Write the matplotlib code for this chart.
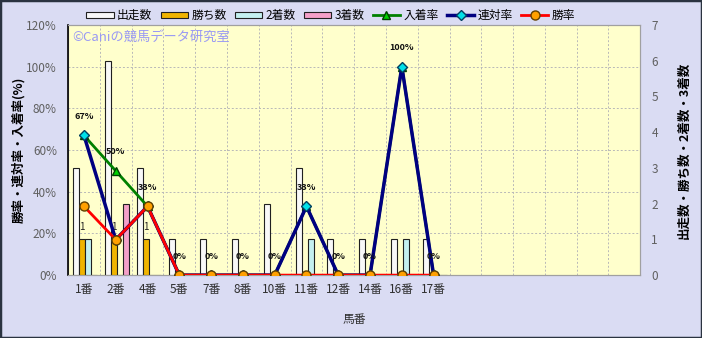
import matplotlib
matplotlib.use("Agg")
import matplotlib.pyplot as plt
from matplotlib.patches import Rectangle

plt.rcParams['font.family'] = ['Noto Sans CJK JP', 'DejaVu Sans']

# data
horses = ["1番", "2番", "4番", "5番", "7番", "8番", "10番", "11番", "12番", "14番", "16番", "17番"]
runs = [3, 6, 3, 1, 1, 1, 2, 3, 1, 1, 1, 1]
wins = [1, 1, 1, 0, 0, 0, 0, 0, 0, 0, 0, 0]
seconds = [1, 0, 0, 0, 0, 0, 0, 1, 0, 0, 1, 0]
thirds = [0, 2, 0, 0, 0, 0, 0, 0, 0, 0, 0, 0]
place_rate = [67, 50, 33, 0, 0, 0, 0, 33, 0, 0, 100, 0]
quinella_rate = [67, 17, 33, 0, 0, 0, 0, 33, 0, 0, 100, 0]
win_rate = [33, 17, 33, 0, 0, 0, 0, 0, 0, 0, 0, 0]
n_slots = 18

bg = "#dadcf3"
fig = plt.figure(figsize=(7.02, 3.38), dpi=100, facecolor=bg)
fig.patches.append(Rectangle((0, 0), 1, 1, transform=fig.transFigure, fill=False,
                             edgecolor="#2a3340", linewidth=2.5))

ax = fig.add_axes([0.097, 0.186, 0.815, 0.74], facecolor="#ffffcc")
ax2 = ax.twinx()

x = list(range(len(horses)))
w = 0.19
shift = 0.04
bar_sets = [
    (runs, "#f8f8f8", "出走数"),
    (wins, "#f0b400", "勝ち数"),
    (seconds, "#c4f0f0", "2着数"),
    (thirds, "#f4a0c8", "3着数"),
]
handles = []
for k, (vals, col, name) in enumerate(bar_sets):
    pos = [xi + shift + (k - 1.5) * w for xi in x]
    b = ax.bar(pos, vals, width=w, color=col, edgecolor="#202020", linewidth=0.8,
               label=name, zorder=3)
    handles.append(b)

# "1" labels on win bars
for xi, v in zip(x, wins):
    if v > 0:
        ax.text(xi + shift - 0.5 * w, v + 0.2, str(v), ha="center", va="bottom",
                fontsize=7, color="#202020", zorder=4)

ax.set_ylim(0, 7)
ax.set_xlim(-0.5, n_slots - 0.5)

# grid
for p in range(20, 120, 20):
    ax.axhline(p / 120 * 7, color="#b8b8b8", linestyle=(0, (2, 2)), linewidth=0.7, zorder=1)
for i in range(n_slots):
    ax.axvline(i + 0.5, color="#b8b8b8", linestyle=(0, (2, 2)), linewidth=0.7, zorder=1)

l1, = ax2.plot(x, place_rate, color="#008000", linewidth=2, marker="^", markersize=6,
               markerfacecolor="#00d000", markeredgecolor="#004000", label="入着率", zorder=5)
l2, = ax2.plot(x, quinella_rate, color="#000080", linewidth=2.5, marker="D", markersize=5,
               markerfacecolor="#00e0e8", markeredgecolor="#004060", label="連対率", zorder=6)
l3, = ax2.plot(x, win_rate, color="#ff0000", linewidth=2, marker="o", markersize=6.5,
               markerfacecolor="#ffa000", markeredgecolor="#604000", label="勝率", zorder=7)
handles += [l1, l2, l3]

for xi, v in zip(x, place_rate):
    ax2.text(xi, v + 7, f"{v}%", ha="center", va="bottom", fontsize=6.5,
             fontweight="bold", color="#101010", zorder=8)

ax2.set_ylim(0, 120)
ax2.set_yticks(range(0, 121, 20))
ax2.set_yticklabels([f"{p}%" for p in range(0, 121, 20)])

# percent axis on the left, counts axis on the right
ax2.yaxis.set_ticks_position("left")
ax2.yaxis.set_label_position("left")
ax.yaxis.tick_right()
ax.yaxis.set_label_position("right")
ax.set_yticks(range(0, 8))

ax.set_xticks(x)
ax.set_xticklabels(horses)
ax.tick_params(axis="x", length=0, pad=6, labelsize=8.5, labelcolor="#303030")
ax.tick_params(axis="y", length=0, pad=8, labelsize=8.5, labelcolor="#606060")
ax2.tick_params(axis="y", length=0, pad=8, labelsize=8.5, labelcolor="#606060")

for a in (ax, ax2):
    for s in a.spines.values():
        s.set_color("#a0a0a0")
        s.set_linewidth(0.8)
ax2.spines["left"].set_color("#000000")
ax2.spines["left"].set_linewidth(1.2)

ax2.set_ylabel("勝率・連対率・入着率(%)", fontsize=9, fontweight="bold", labelpad=1)
ax.set_ylabel("出走数・勝ち数・2着数・3着数", fontsize=9, fontweight="bold", labelpad=14)
ax.set_xlabel("馬番", fontsize=8.5, color="#303030", labelpad=12)

ax.text(0.008, 0.975, "©Caniの競馬データ研究室", transform=ax.transAxes, ha="left", va="top",
        fontsize=9.5, color="#9999f4", zorder=9)

fig.legend(handles=handles, labels=[h.get_label() for h in handles], loc="upper left",
           bbox_to_anchor=(0.108, 1.005), ncol=7, frameon=False, fontsize=8.5,
           handlelength=2.3, handleheight=0.45, handletextpad=0.3, columnspacing=0.7)

fig.savefig("out.png", dpi=100, facecolor=bg)
